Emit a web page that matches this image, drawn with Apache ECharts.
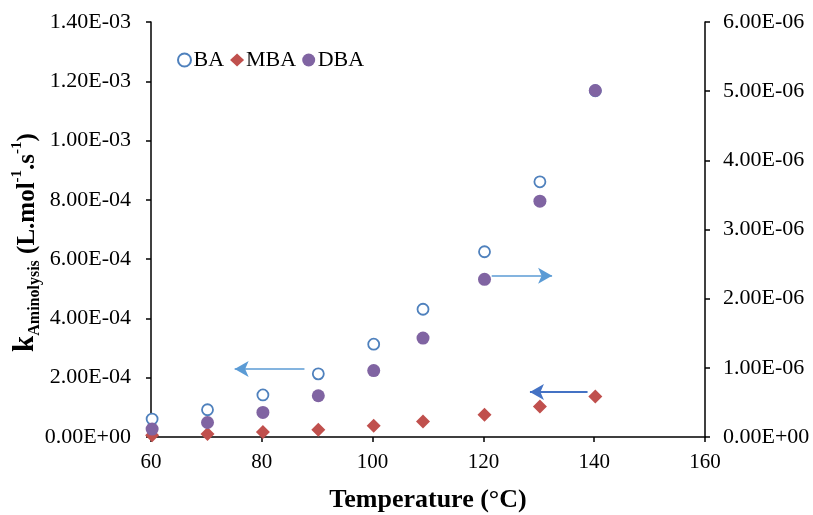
<!DOCTYPE html>
<html>
<head>
<meta charset="utf-8">
<script src="https://cdn.jsdelivr.net/npm/echarts@6/dist/echarts.min.js"></script>
<style>html,body{margin:0;padding:0;background:#fff;}#c{width:813px;height:515px;}</style>
</head>
<body>
<div id="c"></div>
<script>
// Data
const temperature = [60.2, 70.2, 80.2, 90.2, 100.2, 109.1, 120.2, 130.2, 140.2];
const BA  = [6.05e-5, 9.2e-5, 1.42e-4, 2.13e-4, 3.13e-4, 4.31e-4, 6.25e-4, 8.61e-4, 1.168e-3]; // left axis
const MBA = [6.0e-6, 1.0e-5, 1.7e-5, 2.46e-5, 3.8e-5, 5.25e-5, 7.5e-5, 1.03e-4, 1.37e-4];      // left axis
const DBA = [1.15e-7, 2.1e-7, 3.55e-7, 5.96e-7, 9.61e-7, 1.43e-6, 2.28e-6, 3.41e-6, 5.01e-6];  // right axis
const seriesNames = ['BA', 'MBA', 'DBA'];
// arrow annotations [xStart, xEnd, y]
const arrowBA  = [87.7, 75.1, 2.29e-4];
const arrowMBA = [138.8, 128.4, 1.515e-4];
const arrowDBA = [121.5, 132.4, 2.33e-6];

const FONT = "'Liberation Serif','Times New Roman',serif";
function sci(v) {
  if (v === 0) return '0.00E+00';
  let e = Math.floor(Math.log10(Math.abs(v)) + 1e-9);
  let m = v / Math.pow(10, e);
  if (Math.round(m * 100) / 100 >= 10) { m /= 10; e++; }
  return m.toFixed(2) + 'E' + (e < 0 ? '-' : '+') + String(Math.abs(e)).padStart(2, '0');
}
const pair = (xs, ys) => xs.map((x, i) => [x, ys[i]]);
const axisLine = { show: true, lineStyle: { color: '#000', width: 1.5 } };
const tick = { show: true, length: 5, lineStyle: { color: '#000', width: 1.5 } };
const lbl = { color: '#000', fontFamily: FONT, fontSize: 22 };

const chart = echarts.init(document.getElementById('c'), null, { renderer: 'canvas' });
chart.setOption({
  animation: false,
  backgroundColor: '#fff',
  grid: { left: 151, right: 108, top: 22, bottom: 78, containLabel: false, outerBoundsMode: 'none' },
  legend: {
    left: 172, top: 44,
    itemGap: 6, itemWidth: 14, itemHeight: 13,
    textStyle: { fontFamily: FONT, fontSize: 22, color: '#000', padding: [0, 0, 0, -3] },
    data: seriesNames
  },
  xAxis: {
    type: 'value', min: 60, max: 160, interval: 20,
    axisLine, axisTick: tick, splitLine: { show: false },
    axisLabel: Object.assign({ margin: 15 }, lbl, { fontSize: 21 }),
    name: 'Temperature (°C)', nameLocation: 'middle', nameGap: 50, nameMoveOverlap: false,
    nameTextStyle: { fontFamily: FONT, fontSize: 26, fontWeight: 'bold', color: '#000' }
  },
  yAxis: [{
    type: 'value', min: 0, max: 1.4e-3, interval: 2e-4,
    axisLine, axisTick: tick, splitLine: { show: false },
    axisLabel: Object.assign({ margin: 20, formatter: sci }, lbl),
    name: '{k|k}{sub|Aminolysis}{b| (L.mol}{sup|-1}{b|.s}{sup|-1}{b|)}',
    nameLocation: 'middle', nameGap: 111, nameRotate: 90, nameMoveOverlap: false,
    nameTextStyle: {
      color: '#000', fontFamily: FONT, fontWeight: 'bold', padding: [0, 26, 0, 0],
      rich: {
        k: { fontFamily: FONT, fontWeight: 'bold', fontSize: 29, color: '#000', lineHeight: 34, verticalAlign: 'bottom' },
        sub: { fontFamily: FONT, fontWeight: 'bold', fontSize: 16, color: '#000', lineHeight: 34, verticalAlign: 'bottom', padding: [0, 0, -3, 0] },
        b: { fontFamily: FONT, fontWeight: 'bold', fontSize: 25, color: '#000', lineHeight: 34, verticalAlign: 'bottom' },
        sup: { fontFamily: FONT, fontWeight: 'bold', fontSize: 15, color: '#000', lineHeight: 34, verticalAlign: 'top', padding: [4, 0, 0, 0] }
      }
    }
  }, {
    type: 'value', min: 0, max: 6e-6, interval: 1e-6, position: 'right',
    axisLine, axisTick: tick, splitLine: { show: false },
    axisLabel: Object.assign({ margin: 18, formatter: sci }, lbl)
  }],
  series: [{
    name: 'BA', type: 'scatter', yAxisIndex: 0, z: 2,
    symbol: 'circle', symbolSize: 11,
    itemStyle: { color: '#fff', borderColor: '#4F81BD', borderWidth: 1.8, opacity: 1 },
    data: pair(temperature, BA),
    markLine: {
      silent: true, symbol: ['none', 'arrow'], symbolSize: [12, 14],
      label: { show: false },
      lineStyle: { color: '#5B9BD5', width: 1.5, type: 'solid' },
      data: [
        [{ coord: [arrowBA[0], arrowBA[2]] }, { coord: [arrowBA[1], arrowBA[2]] }],
        [{ coord: [arrowMBA[0], arrowMBA[2]], lineStyle: { color: '#4472C4', width: 1.8 } },
         { coord: [arrowMBA[1], arrowMBA[2]] }]
      ]
    }
  }, {
    name: 'MBA', type: 'scatter', yAxisIndex: 0, z: 3,
    symbol: 'diamond', symbolSize: 14,
    itemStyle: { color: '#C0504D', opacity: 1 },
    data: pair(temperature, MBA)
  }, {
    name: 'DBA', type: 'scatter', yAxisIndex: 1, z: 4,
    symbol: 'circle', symbolSize: 13,
    itemStyle: { color: '#8064A2', opacity: 1 },
    data: pair(temperature, DBA),
    markLine: {
      silent: true, symbol: ['none', 'arrow'], symbolSize: [12, 14],
      label: { show: false },
      lineStyle: { color: '#5B9BD5', width: 1.5, type: 'solid' },
      data: [
        [{ coord: [arrowDBA[0], arrowDBA[2]] }, { coord: [arrowDBA[1], arrowDBA[2]] }]
      ]
    }
  }]
});
</script>
</body>
</html>
